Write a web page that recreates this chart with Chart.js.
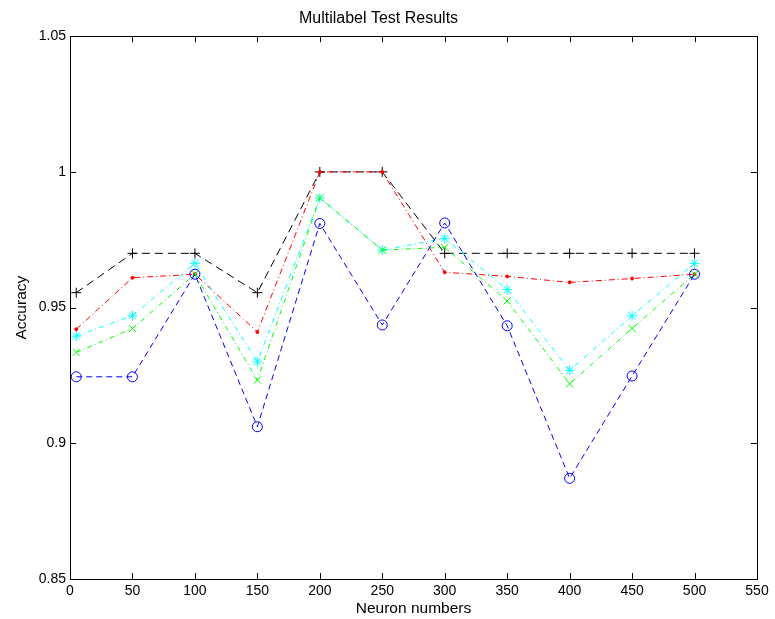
<!DOCTYPE html>
<html>
<head>
<meta charset="utf-8">
<script src="https://cdn.jsdelivr.net/npm/chart.js@4"></script>
<style>
  body { margin: 0; background: #fff; }
</style>
</head>
<body>
<canvas id="grafik" width="775" height="619"></canvas>
<script>
// data
const neuron = [5, 50, 100, 150, 200, 250, 300, 350, 400, 450, 500];
const seriHitam = [0.9555, 0.97, 0.97, 0.9555, 1.0, 1.0, 0.97, 0.97, 0.97, 0.97, 0.97];
const seriMerah = [0.942, 0.961, 0.9623, 0.941, 1.0, 1.0, 0.963, 0.9615, 0.9593, 0.9607, 0.9623];
const seriCyan = [0.9395, 0.947, 0.9663, 0.930, 0.9904, 0.9712, 0.9755, 0.9567, 0.9269, 0.947, 0.9663];
const seriHijau = [0.9335, 0.9423, 0.9623, 0.9233, 0.9904, 0.9712, 0.9722, 0.9525, 0.9219, 0.9423, 0.9623];
const seriBiru = [0.9245, 0.9245, 0.9623, 0.9061, 0.981, 0.9436, 0.9812, 0.9433, 0.8871, 0.9248, 0.9623];

const xTicks = [0, 50, 100, 150, 200, 250, 300, 350, 400, 450, 500, 550];
const yTicks = [0.85, 0.9, 0.95, 1.0, 1.05];

const font = 'Liberation Sans, Arial, sans-serif';

function titik(ys) {
  return neuron.map((x, i) => ({ x: x, y: ys[i] }));
}

// kotak dan tick ke dalam gaya MATLAB
const kotakPlugin = {
  id: 'kotak',
  afterDraw(chart) {
    const ctx = chart.ctx;
    const a = chart.chartArea;
    const sx = chart.scales.x, sy = chart.scales.y;
    ctx.save();
    ctx.strokeStyle = '#000';
    ctx.lineWidth = 1;
    ctx.strokeRect(Math.round(a.left) + 0.5, Math.round(a.top) + 0.5,
      Math.round(a.right - a.left), Math.round(a.bottom - a.top));
    ctx.beginPath();
    xTicks.forEach(v => {
      const px = Math.round(sx.getPixelForValue(v)) + 0.5;
      ctx.moveTo(px, a.bottom); ctx.lineTo(px, a.bottom - 6);
      ctx.moveTo(px, a.top); ctx.lineTo(px, a.top + 6);
    });
    yTicks.forEach(v => {
      const py = Math.round(sy.getPixelForValue(v)) + 0.5;
      ctx.moveTo(a.left, py); ctx.lineTo(a.left + 6, py);
      ctx.moveTo(a.right, py); ctx.lineTo(a.right - 6, py);
    });
    ctx.stroke();
    ctx.restore();
  }
};

const ctx = document.getElementById('grafik').getContext('2d');
new Chart(ctx, {
  type: 'scatter',
  data: {
    datasets: [
      {
        data: titik(seriBiru), borderColor: '#0000ff', backgroundColor: 'rgba(0,0,0,0)',
        borderDash: [6, 4], pointStyle: 'circle', pointRadius: 5, pointBorderColor: '#0000ff', order: 1
      },
      {
        data: titik(seriHijau), borderColor: '#00ff00', backgroundColor: 'rgba(0,0,0,0)',
        borderDash: [5, 3, 1, 3], pointStyle: 'crossRot', pointRadius: 5, pointBorderColor: '#00ff00', order: 2
      },
      {
        data: titik(seriCyan), borderColor: '#00ffff', backgroundColor: 'rgba(0,0,0,0)',
        borderDash: [5, 3, 1, 3], pointStyle: 'star', pointRadius: 5, pointBorderColor: '#00ffff', order: 3
      },
      {
        data: titik(seriMerah), borderColor: '#ff0000', backgroundColor: '#ff0000',
        borderDash: [6, 3, 1, 3], pointStyle: 'circle', pointRadius: 1.5, pointBorderColor: '#ff0000', order: 4
      },
      {
        data: titik(seriHitam), borderColor: '#000000', backgroundColor: 'rgba(0,0,0,0)',
        borderDash: [8, 5], pointStyle: 'cross', pointRadius: 5, pointBorderColor: '#000000', order: 5
      }
    ].map(d => Object.assign({ showLine: true, borderWidth: 1, pointBorderWidth: 1, pointHoverRadius: 5 }, d))
  },
  options: {
    responsive: false,
    animation: false,
    layout: { padding: { right: 18, left: 0, bottom: 0, top: 0 } },
    plugins: {
      legend: { display: false },
      tooltip: { enabled: false },
      title: {
        display: true,
        text: 'Multilabel Test Results',
        color: '#000',
        font: { family: font, size: 16, weight: 'normal' },
        padding: { top: 9, bottom: 8 }
      }
    },
    scales: {
      x: {
        type: 'linear',
        min: 0, max: 550,
        afterBuildTicks: s => { s.ticks = xTicks.map(v => ({ value: v })); },
        afterFit: s => { s.height = 40; },
        grid: { display: false, drawTicks: false },
        border: { display: false },
        ticks: { color: '#000', font: { family: font, size: 14 }, padding: 4, maxRotation: 0 },
        title: {
          display: true, text: 'Neuron numbers', color: '#000',
          font: { family: font, size: 15.5 }, padding: { top: 0, bottom: 1 }
        }
      },
      y: {
        type: 'linear',
        min: 0.85, max: 1.05,
        afterBuildTicks: s => { s.ticks = yTicks.map(v => ({ value: v })); },
        afterFit: s => { s.width = 70; },
        grid: { display: false, drawTicks: false },
        border: { display: false },
        ticks: {
          color: '#000', font: { family: font, size: 14 }, padding: 4,
          callback: v => String(parseFloat(v.toFixed(2)))
        },
        title: {
          display: true, text: 'Accuracy', color: '#000',
          font: { family: font, size: 15.5 }, padding: { top: 12, bottom: 0 }
        }
      }
    }
  },
  plugins: [kotakPlugin]
});
</script>
</body>
</html>
